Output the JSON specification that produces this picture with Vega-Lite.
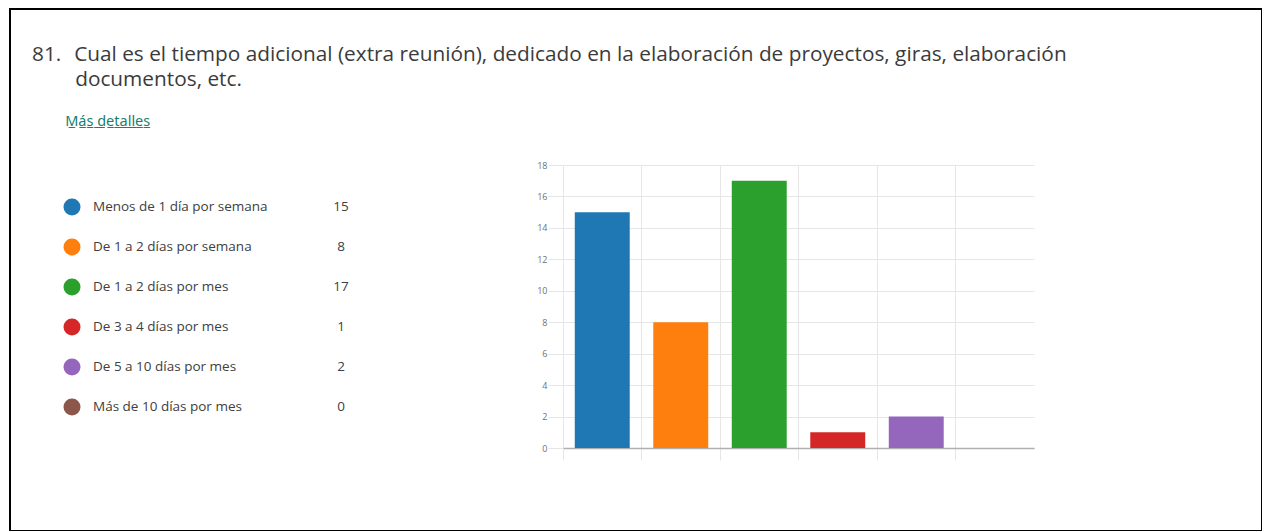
{
  "$schema": "https://vega.github.io/schema/vega-lite/v6.json",
  "autosize": {"type": "none"},
  "padding": {"left": 10, "top": 9, "right": 0, "bottom": 0},
  "background": "white",
  "width": 1252,
  "height": 522,
  "view": {"stroke": "#000000", "strokeWidth": 2, "fill": "white"},
  "title": {
    "text": [
      "81.\u00a0\u00a0\u200aCual es el tiempo adicional (extra reunión), dedicado en la elaboración de proyectos, giras, elaboración",
      "\u200b\u2007\u2007\u2007\u00a0\u200adocumentos, etc."
    ],
    "subtitle": "\u200b\u2007\u2007\u2007\u2007M̲á̲s̲ ̲d̲e̲t̲a̲l̲l̲e̲s̲",
    "anchor": "start",
    "frame": "group",
    "orient": "top",
    "dx": 22,
    "font": "Open Sans",
    "fontSize": 20.8,
    "fontWeight": "normal",
    "color": "#3b3b3b",
    "lineHeight": 25,
    "subtitleFont": "Noto Sans",
    "subtitleFontSize": 14.5,
    "subtitleColor": "#168070",
    "subtitlePadding": 24,
    "offset": -120
  },
  "datasets": {
    "respuestas": [
      {"categoria": "Menos de 1 día por semana", "orden": 1, "conteo": 15},
      {"categoria": "De 1 a 2 días por semana", "orden": 2, "conteo": 8},
      {"categoria": "De 1 a 2 días por mes", "orden": 3, "conteo": 17},
      {"categoria": "De 3 a 4 días por mes", "orden": 4, "conteo": 1},
      {"categoria": "De 5 a 10 días por mes", "orden": 5, "conteo": 2},
      {"categoria": "Más de 10 días por mes", "orden": 6, "conteo": 0}
    ]
  },
  "data": {"name": "respuestas"},
  "layer": [
    {
      "encoding": {
        "y": {
          "field": "categoria",
          "type": "nominal",
          "sort": {"field": "orden"},
          "scale": {"type": "point", "range": [198, 398], "padding": 0},
          "axis": null
        }
      },
      "layer": [
        {
          "mark": {"type": "circle", "size": 290, "opacity": 1},
          "encoding": {
            "x": {"datum": 62, "type": "quantitative", "scale": {"domain": [0, 1252], "nice": false, "zero": false}, "axis": null},
            "color": {
              "field": "categoria",
              "type": "nominal",
              "sort": {"field": "orden"},
              "scale": {"range": ["#1f77b4", "#ff7f0e", "#2ca02c", "#d62728", "#9467bd", "#8c564b"]},
              "legend": null
            }
          }
        },
        {
          "mark": {"type": "text", "align": "left", "baseline": "middle", "font": "Open Sans", "fontSize": 13.5, "color": "#404040"},
          "encoding": {
            "x": {"datum": 83, "type": "quantitative"},
            "text": {"field": "categoria"}
          }
        },
        {
          "mark": {"type": "text", "align": "center", "baseline": "middle", "font": "Open Sans", "fontSize": 13.5, "color": "#404040"},
          "encoding": {
            "x": {"datum": 331, "type": "quantitative"},
            "text": {"field": "conteo"}
          }
        }
      ]
    },
    {
      "mark": {"type": "bar", "width": {"band": 0.7}},
      "encoding": {
        "x": {
          "field": "categoria",
          "type": "nominal",
          "sort": {"field": "orden"},
          "scale": {"range": [553, 1024], "paddingInner": 0, "paddingOuter": 0},
          "axis": {
            "orient": "top",
            "title": null,
            "labels": false,
            "grid": true,
            "bandPosition": 0,
            "offset": -439,
            "gridColor": "#e6e6e6",
            "tickColor": "#e6e6e6",
            "tickSize": -12,
            "domainColor": "#b0b0b0",
            "domainWidth": 1.5
          }
        },
        "y": {
          "field": "conteo",
          "type": "quantitative",
          "scale": {"domain": [0, 18], "nice": false, "range": [439, 156]},
          "axis": {
            "orient": "left",
            "title": null,
            "offset": -553,
            "values": [0, 2, 4, 6, 8, 10, 12, 14, 16, 18],
            "grid": true,
            "gridColor": "#e6e6e6",
            "tickColor": "#e6e6e6",
            "tickSize": 15,
            "domain": false,
            "labelFont": "Open Sans",
            "labelFontSize": 9,
            "labelColor": "#707070",
            "labelPadding": 1
          }
        },
        "color": {
          "field": "categoria",
          "type": "nominal",
          "sort": {"field": "orden"},
          "legend": null
        }
      }
    }
  ],
  "resolve": {
    "scale": {"x": "independent", "y": "independent"},
    "axis": {"x": "independent", "y": "independent"}
  }
}
